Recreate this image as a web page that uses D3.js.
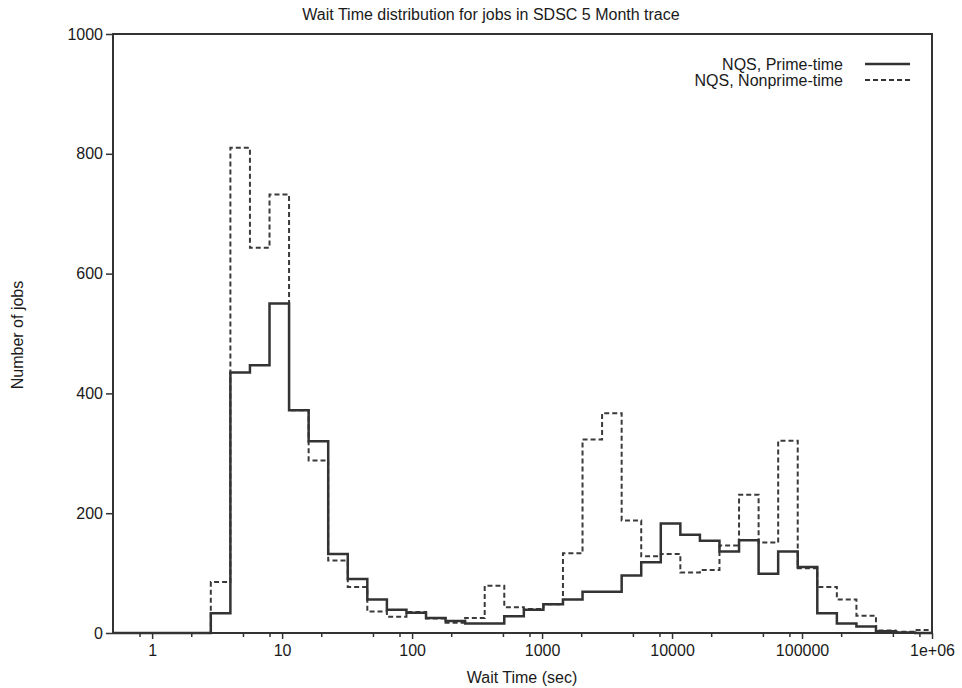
<!DOCTYPE html>
<html>
<head>
<meta charset="utf-8">
<script src="https://cdn.jsdelivr.net/npm/d3@7"></script>
<style>
  body { margin: 0; background: #fff; }
  text { font-family: "Liberation Sans", Arial, sans-serif; fill: #1a1a1a; }
</style>
</head>
<body>
<div id="chart-area"></div>
<script>
// bin lower edges (sqrt(2) spaced), last entry is the upper edge of the final bin
let binEdges = [2.828, 4, 5.657, 8, 11.31, 16, 22.63, 32, 45.25, 64, 90.51, 128, 181.0, 256,
  362.0, 512, 724.1, 1024, 1448, 2048, 2896, 4096, 5793, 8192, 11585, 16384, 23170, 32768,
  46341, 65536, 92682, 131072, 185364, 262144, 370728, 524288, 741455, 1048576]

let primeTime = [33, 435, 447, 550, 372, 320, 132, 90, 56, 39, 34, 25, 20, 16, 16, 28, 39, 48,
  56, 69, 69, 96, 118, 183, 164, 154, 136, 155, 99, 136, 110, 33, 16, 11, 3, 1, 0]

let nonprimeTime = [85, 810, 643, 732, 372, 288, 121, 77, 36, 27, 35, 24, 17, 25, 79, 43, 40, 48,
  133, 323, 367, 188, 128, 132, 101, 105, 146, 231, 151, 321, 108, 77, 56, 29, 4, 2, 5]

let xMajorTicks = [1, 10, 100, 1000, 10000, 100000, 1000000]
let xMajorLabels = ["1", "10", "100", "1000", "10000", "100000", "1e+06"]
let xMinorTicks = [0.8, 2, 5, 8, 20, 50, 80, 200, 500, 800, 2000, 5000, 8000,
  20000, 50000, 80000, 200000, 500000, 800000]
let yTicks = [0, 200, 400, 600, 800, 1000]

let width = 962
let height = 688
let margin = {top: 34, right: 30, bottom: 55, left: 113}
let innerW = width - margin.left - margin.right
let innerH = height - margin.top - margin.bottom

let svg = d3.select("#chart-area")
  .append("svg")
    .attr("width", width)
    .attr("height", height)

let g = svg.append("g")
  .attr("transform", "translate(" + margin.left + ", " + margin.top + ")")

let x = d3.scaleLog().domain([0.5, 1e6]).range([0, innerW]).clamp(true)
let y = d3.scaleLinear().domain([0, 1000]).range([innerH, 0])

// axes
let bottomAxis = d3.axisBottom(x)
  .tickValues(xMajorTicks)
  .tickFormat((d, i) => xMajorLabels[i])
  .tickSize(6)
  .tickSizeOuter(0)
  .tickPadding(6)
let xg = g.append("g")
  .attr("class", "bottom axis")
  .attr("transform", "translate(0, " + innerH + ")")
  .call(bottomAxis)
xg.select(".domain").remove()
xg.selectAll("line").attr("stroke", "#333").attr("stroke-width", 1.5)
xg.selectAll("text").attr("font-size", "16px").attr("fill", "#1a1a1a")

let minorAxis = d3.axisBottom(x)
  .tickValues(xMinorTicks)
  .tickFormat("")
  .tickSize(4)
  .tickSizeOuter(0)
let mg = g.append("g")
  .attr("class", "minor axis")
  .attr("transform", "translate(0, " + innerH + ")")
  .call(minorAxis)
mg.select(".domain").remove()
mg.selectAll("line").attr("stroke", "#333").attr("stroke-width", 1.5)

let leftAxis = d3.axisLeft(y)
  .tickValues(yTicks)
  .tickFormat(d3.format("d"))
  .tickSize(7)
  .tickSizeOuter(0)
  .tickPadding(3)
let yg = g.append("g")
  .attr("class", "left axis")
  .call(leftAxis)
yg.select(".domain").remove()
yg.selectAll("line").attr("stroke", "#333").attr("stroke-width", 1.5)
yg.selectAll("text").attr("font-size", "16px").attr("fill", "#1a1a1a")

// frame
g.append("rect")
  .attr("x", 0)
  .attr("y", 0)
  .attr("width", innerW)
  .attr("height", innerH)
  .attr("fill", "none")
  .attr("stroke", "#333")
  .attr("stroke-width", 2)

// step histogram
function stepPoints(values) {
  let pts = [[0.5, 0]]
  values.forEach((v, i) => pts.push([binEdges[i], v]))
  pts.push([binEdges[binEdges.length - 1], values[values.length - 1]])
  return pts
}

let line = d3.line()
  .x(d => x(d[0]))
  .y(d => y(d[1]))
  .curve(d3.curveStepAfter)

g.append("path")
  .attr("d", line(stepPoints(nonprimeTime)))
  .attr("fill", "none")
  .attr("stroke", "#3a3a3a")
  .attr("stroke-width", 2)
  .attr("stroke-dasharray", "5,3")

g.append("path")
  .attr("d", line(stepPoints(primeTime)))
  .attr("fill", "none")
  .attr("stroke", "#333")
  .attr("stroke-width", 2.5)

// legend
let legend = [
  {label: "NQS, Prime-time", dash: null, w: 2.5},
  {label: "NQS, Nonprime-time", dash: "5,3", w: 2}
]
legend.forEach((d, i) => {
  let ly = 30 + i * 16
  g.append("text")
    .attr("x", 730)
    .attr("y", ly)
    .attr("dy", "0.35em")
    .attr("text-anchor", "end")
    .attr("font-size", "16px")
    .text(d.label)
  g.append("line")
    .attr("x1", 752)
    .attr("x2", 797)
    .attr("y1", ly)
    .attr("y2", ly)
    .attr("stroke", "#333")
    .attr("stroke-width", d.w)
    .attr("stroke-dasharray", d.dash)
})

// labels
svg.append("text")
  .attr("x", 491)
  .attr("y", 20)
  .attr("text-anchor", "middle")
  .attr("font-size", "16px")
  .text("Wait Time distribution for jobs in SDSC 5 Month trace")

svg.append("text")
  .attr("x", 522)
  .attr("y", 683)
  .attr("text-anchor", "middle")
  .attr("font-size", "16px")
  .text("Wait Time (sec)")

svg.append("text")
  .attr("transform", "translate(23, 335) rotate(-90)")
  .attr("text-anchor", "middle")
  .attr("font-size", "16px")
  .text("Number of jobs")
</script>
</body>
</html>
